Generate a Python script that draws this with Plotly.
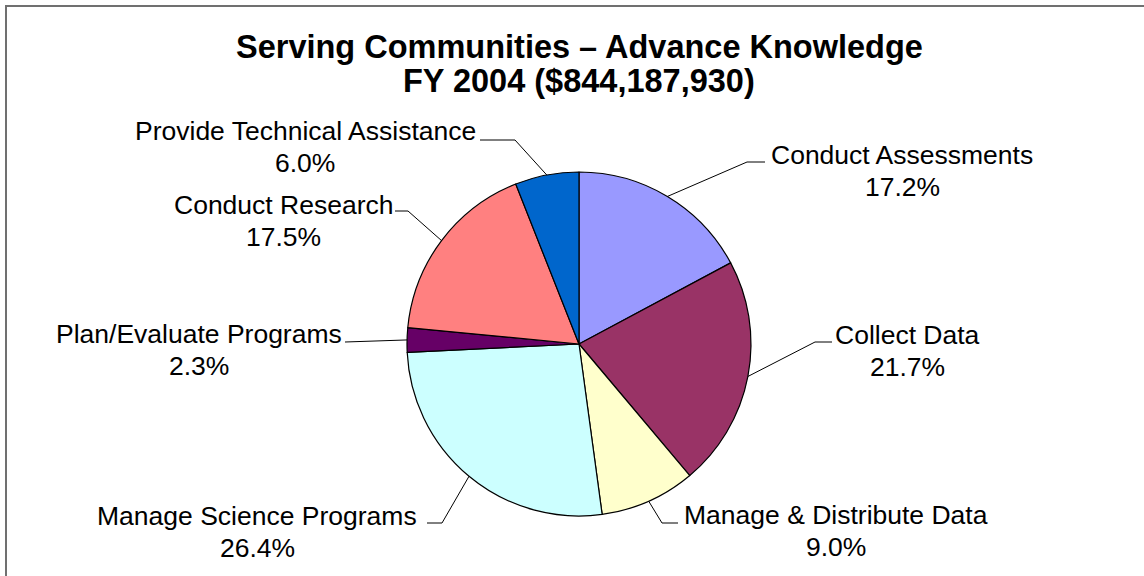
import math
import plotly.graph_objects as go

# ---- data ----
categories = ["Conduct Assessments", "Collect Data", "Manage & Distribute Data",
              "Manage Science Programs", "Plan/Evaluate Programs", "Conduct Research",
              "Provide Technical Assistance"]
shares = [17.2, 21.7, 9.0, 26.4, 2.3, 17.5, 6.0]
pct_labels = ["17.2%", "21.7%", "9.0%", "26.4%", "2.3%", "17.5%", "6.0%"]
title_lines = ["Serving Communities – Advance Knowledge", "FY 2004 ($844,187,930)"]

# ---- styles / layout ----
colors = ["#9999FF", "#993366", "#FFFFCC", "#CCFFFF", "#660066", "#FF8080", "#0066CC"]
W, H = 1144, 576
CX, CY, R = 579, 344, 172          # pie centre / radius in pixels
# label centres (pixels: x, first-line y) and leader elbow / end points (pixels)
label_pos = [(902, 155), (907, 335), (836, 515), (257, 516), (199, 334), (283, 205), (305, 131)]
LINE_GAP = 32
elbow_pos = [(747, 162), (815, 342), (662, 523), (442, 523), (345, 342), (408, 211), (515, 140)]
end_pos = [(765, 162), (832, 342), (678, 523), (427, 523), (345, 342), (395, 211), (480, 140)]
title_y = [47, 81]

FONT = "Liberation Sans, Arial, sans-serif"

def px(x):
    return x / W

def py(y):
    return 1 - y / H

fig = go.Figure(go.Pie(
    labels=categories,
    values=shares,
    sort=False,
    direction="clockwise",
    rotation=0,
    textinfo="none",
    hoverinfo="label+percent",
    marker=dict(colors=colors, line=dict(color="black", width=1.2)),
    domain=dict(x=[px(CX - R), px(CX + R)], y=[py(CY + R), py(CY - R)]),
    showlegend=False,
))

annotations = []
shapes = []
total = sum(shares)
cum = 0.0
for i, (name, v) in enumerate(zip(categories, shares)):
    mid = (cum + v / 2) / total * 2 * math.pi
    cum += v
    sx = CX + R * math.sin(mid)
    sy = CY - R * math.cos(mid)
    ex, ey = elbow_pos[i]
    tx, ty = end_pos[i]
    shapes.append(dict(type="path", xref="paper", yref="paper",
                       path=f"M {px(sx)},{py(sy)} L {px(ex)},{py(ey)} L {px(tx)},{py(ty)}",
                       line=dict(color="black", width=1)))
    lx, ly = label_pos[i]
    for k, txt in enumerate([name, pct_labels[i]]):
        annotations.append(dict(x=px(lx), y=py(ly + k * LINE_GAP), xref="paper", yref="paper",
                                text=txt, showarrow=False,
                                xanchor="center", yanchor="middle", align="center",
                                font=dict(family=FONT, size=26.5, color="black")))

for k, txt in enumerate(title_lines):
    annotations.append(dict(x=px(579), y=py(title_y[k]), xref="paper", yref="paper",
                            text=f"<b>{txt}</b>", showarrow=False,
                            xanchor="center", yanchor="middle", align="center",
                            font=dict(family=FONT, size=32.5, color="black")))

# chart frame
shapes.append(dict(type="rect", xref="paper", yref="paper",
                   x0=px(6), y0=py(6), x1=1.05, y1=-0.05,
                   line=dict(color="#707070", width=2), fillcolor="rgba(0,0,0,0)"))

fig.update_layout(
    width=W, height=H,
    margin=dict(l=0, r=0, t=0, b=0),
    paper_bgcolor="white",
    plot_bgcolor="white",
    annotations=annotations,
    shapes=shapes,
)

fig.write_html("out.html",
               config={"displayModeBar": False},
               post_script="document.body.style.margin='0';document.body.style.overflow='hidden';")
